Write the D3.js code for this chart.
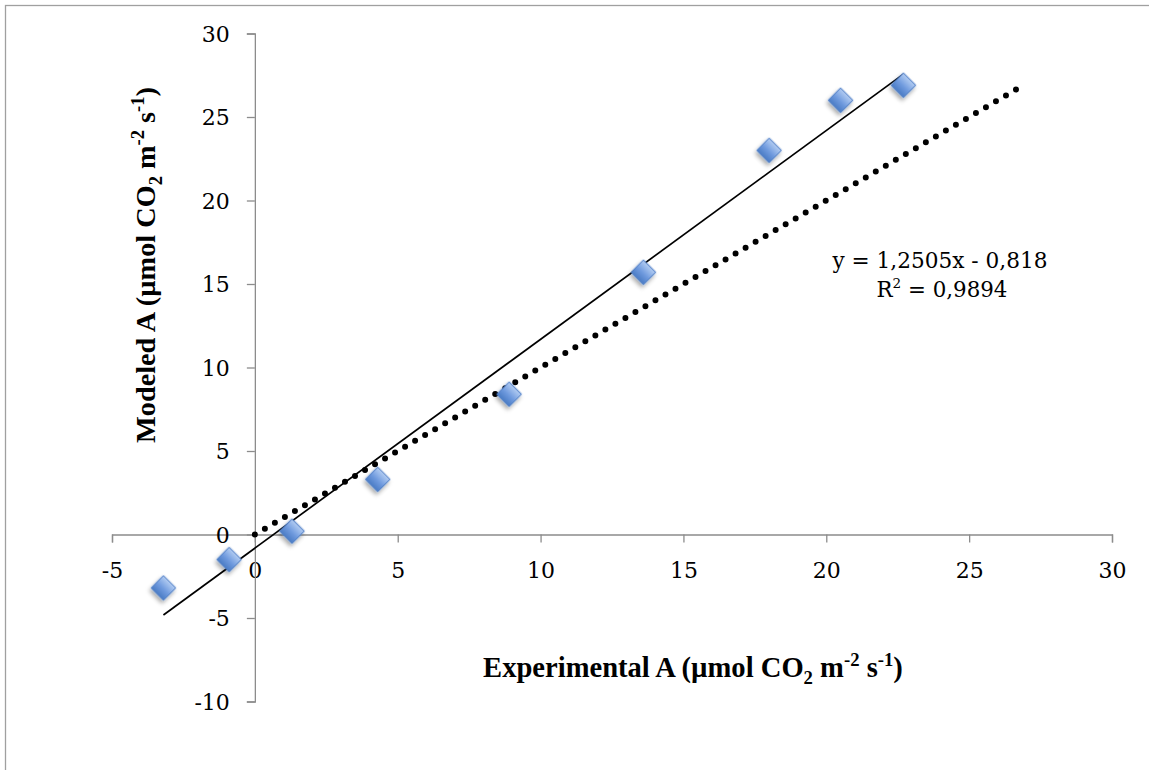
<!DOCTYPE html>
<html><head><meta charset="utf-8">
<script src="https://cdn.jsdelivr.net/npm/d3@7"></script>
<style>body{margin:0;background:#fff}svg{display:block}text{font-family:"DejaVu Serif",serif}</style>
</head><body><svg id="c" width="1149" height="770"></svg>
<script>
const expA = [-3.2, -0.9, 1.3, 4.3, 8.9, 13.6, 18.0, 20.5, 22.7];
const modA = [-3.2, -1.5, 0.2, 3.3, 8.4, 15.7, 23.0, 26.0, 26.9];
const xTicks = [-5, 0, 5, 10, 15, 20, 25, 30];
const yTicks = [-10, -5, 0, 5, 10, 15, 20, 25, 30];
const fitSlope = 1.2505, fitIntercept = -0.818, fitR2 = 0.9894;
const oneToOne = [0, 26.7];

const svg = d3.select("#c");
const x = d3.scaleLinear().domain([-5, 30]).range([112, 1112]);
const y = d3.scaleLinear().domain([-10, 30]).range([701.5, 33.5]);
const axisColor = "#8c8c8c";

svg.append("rect").attr("x",5.5).attr("y",5.5).attr("width",1160).attr("height",800)
  .attr("fill","none").attr("stroke","#a0a0a0").attr("stroke-width",1.3);

const defs = svg.append("defs");
const g = defs.append("linearGradient").attr("id","dg").attr("x1",0).attr("y1",0).attr("x2",0).attr("y2",1);
g.append("stop").attr("offset","0%").attr("stop-color","#b3cdf2");
g.append("stop").attr("offset","55%").attr("stop-color","#6f9ade");
g.append("stop").attr("offset","100%").attr("stop-color","#4a7bc4");
const f = defs.append("filter").attr("id","sh").attr("x","-50%").attr("y","-50%").attr("width","200%").attr("height","200%");
f.append("feDropShadow").attr("dx",1).attr("dy",3).attr("stdDeviation",2.2).attr("flood-color","#000").attr("flood-opacity",0.35);

function fitWidth(sel, target){
  const fs = parseFloat(sel.style("font-size"));
  const w = sel.node().getComputedTextLength();
  const k = target / w;
  sel.style("font-size", (fs*k)+"px");
  sel.selectAll("tspan").each(function(){
    const t = d3.select(this);
    const s = this.style.fontSize;
    if (s) t.style("font-size", (parseFloat(s)*k)+"px");
    const dy = t.attr("dy");
    if (dy) t.attr("dy", parseFloat(dy)*k);
  });
}

// axes
const xAxis = d3.axisBottom(x).tickValues(xTicks).tickSize(8).tickFormat(d => String(d));
const yAxis = d3.axisLeft(y).tickValues(yTicks).tickSize(8).tickFormat(d => String(d));
const gx = svg.append("g").attr("transform",`translate(0,${y(0)})`).call(xAxis);
const gy = svg.append("g").attr("transform",`translate(${x(0)},0)`).call(yAxis);
[gx, gy].forEach(a => {
  a.select(".domain").attr("stroke",axisColor).attr("stroke-width",1.3);
  a.selectAll(".tick line").attr("stroke",axisColor).attr("stroke-width",1.3);
  a.selectAll(".tick text").attr("fill","#000").style("font-size","22px").style("font-family",'"DejaVu Serif",serif');
});
gx.selectAll(".tick text").attr("dy",0).attr("y",43);
gy.selectAll(".tick text").attr("x",-25).attr("dy","0.36em");

// 1:1 dotted line
svg.append("line").attr("x1",x(oneToOne[0])).attr("y1",y(oneToOne[0]))
  .attr("x2",x(oneToOne[1])).attr("y2",y(oneToOne[1]))
  .attr("stroke","#000").attr("stroke-width",6).attr("stroke-linecap","round")
  .attr("stroke-dasharray","0 11.6");

// fit line
const xmin = d3.min(expA), xmax = d3.max(expA);
svg.append("line").attr("x1",x(xmin)).attr("y1",y(fitSlope*xmin+fitIntercept))
  .attr("x2",x(xmax)).attr("y2",y(fitSlope*xmax+fitIntercept))
  .attr("stroke","#000").attr("stroke-width",1.7);

// diamonds
const sym = d3.symbol().type(d3.symbolSquare).size(305);
svg.append("g").selectAll("path").data(expA.map((v,i)=>[v,modA[i]])).join("path")
  .attr("d", sym)
  .attr("transform", d => `translate(${x(d[0])},${y(d[1])}) rotate(45)`)
  .attr("fill","url(#dg)").attr("stroke","#4f7fc8").attr("stroke-width",1)
  .attr("filter","url(#sh)");

// equation
const eq = svg.append("text").attr("x",940).attr("y",268).attr("text-anchor","middle").style("font-size","22px");
eq.text(`y = ${String(fitSlope).replace(".",",")}x - ${String(-fitIntercept).replace(".",",")}`);
fitWidth(eq, 215);
const r2 = svg.append("text").attr("x",942).attr("y",297).attr("text-anchor","middle").style("font-size","22px");
r2.append("tspan").text("R");
r2.append("tspan").attr("dy",-9).style("font-size","14px").text("2");
r2.append("tspan").attr("dy",9).text(` = ${String(fitR2).replace(".",",")}`);
fitWidth(r2, 131);

// axis titles
function title(sel){
  sel.style("font-size","26px").style("font-weight","bold").style("font-family",'"Liberation Serif",serif');
  sel.append("tspan").text("(µmol CO");
  sel.append("tspan").attr("dy",6).style("font-size","17px").text("2");
  sel.append("tspan").attr("dy",-6).text(" m");
  sel.append("tspan").attr("dy",-10).style("font-size","17px").text("-2");
  sel.append("tspan").attr("dy",10).text(" s");
  sel.append("tspan").attr("dy",-10).style("font-size","17px").text("-1");
  sel.append("tspan").attr("dy",10).text(")");
}
const xt = svg.append("text").attr("x",693).attr("y",677).attr("text-anchor","middle");
xt.append("tspan").text("Experimental A ");
title(xt);
fitWidth(xt, 420);
const yt = svg.append("text").attr("transform","translate(155,265) rotate(-90)").attr("text-anchor","middle");
yt.append("tspan").text("Modeled A ");
title(yt);
fitWidth(yt, 356);
</script></body></html>
